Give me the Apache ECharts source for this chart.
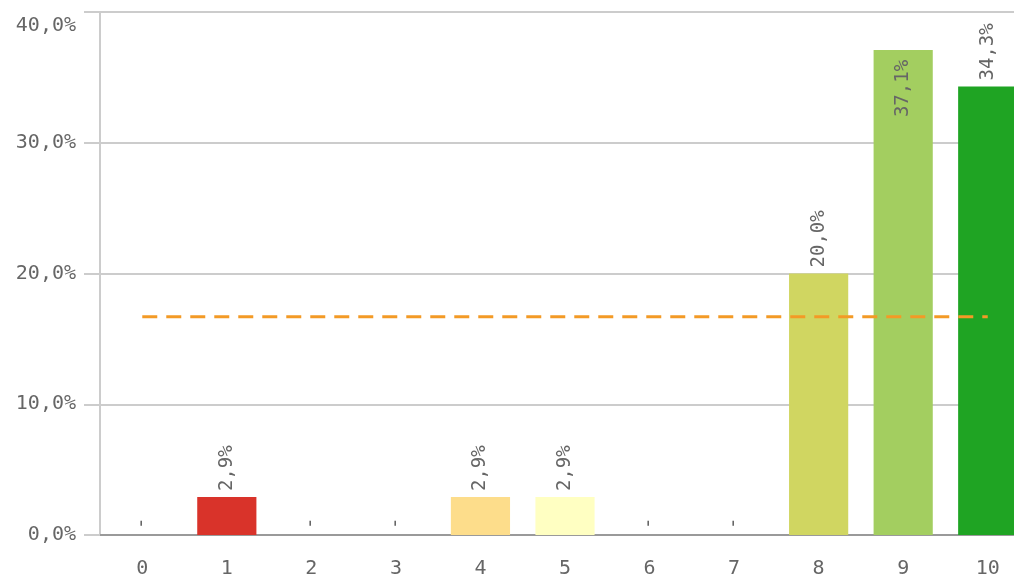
<!DOCTYPE html>
<html><head><meta charset="utf-8">
<script src="https://cdn.jsdelivr.net/npm/echarts@6/dist/echarts.min.js"></script>
<style>html,body{margin:0;padding:0;background:#fff}#c{width:1014px;height:578px}</style>
</head><body><div id="c"></div>
<script>
const categories = ['0','1','2','3','4','5','6','7','8','9','10'];
const values = [0, 2.9, 0, 0, 2.9, 2.9, 0, 0, 20.0, 37.1, 34.3];
const barColors = ['#cccccc','#d9332a','#cccccc','#cccccc','#fddd8b','#ffffc2','#cccccc','#cccccc','#d0d661','#a3ce60','#1fa423'];
const averageValue = 16.7;
const yTicks = [0, 10, 20, 30, 40];

const FONT = 'DejaVu Sans Mono';
const fmt = v => v.toFixed(1).replace('.', ',') + '%';

const barData = values.map((v, i) => {
  const d = { value: v, itemStyle: { color: barColors[i] } };
  if (v > 35) {
    d.label = { position: 'insideTop', align: 'right', distance: 10 };
  }
  return d;
});

const chart = echarts.init(document.getElementById('c'));
chart.setOption({
  animation: false,
  grid: { left: 100, right: -16, top: 12, bottom: 43, containLabel: false, outerBoundsMode: 'none' },
  xAxis: {
    type: 'category',
    data: categories,
    axisLine: { lineStyle: { color: '#9a9a9a', width: 2 } },
    axisTick: { show: false },
    axisLabel: { color: '#666', fontFamily: FONT, fontSize: 20, margin: 24 }
  },
  yAxis: {
    type: 'value',
    min: yTicks[0], max: yTicks[yTicks.length - 1], interval: 10,
    axisLine: { show: true, lineStyle: { color: '#cccccc', width: 2 } },
    axisTick: { show: true, length: 16, lineStyle: { color: '#cccccc', width: 2 } },
    splitLine: { lineStyle: { color: '#cccccc', width: 2 } },
    axisLabel: {
      color: '#666', fontFamily: FONT, fontSize: 20, margin: 24,
      formatter: v => v === yTicks[yTicks.length - 1] ? '{top|' + fmt(v) + '}' : fmt(v),
      rich: { top: { fontFamily: FONT, fontSize: 20, color: '#666', padding: [28, 0, 0, 0] } }
    }
  },
  series: [
    {
      type: 'bar',
      data: barData,
      barCategoryGap: '30%',
      label: {
        show: true,
        position: 'top',
        rotate: 90,
        align: 'left',
        verticalAlign: 'middle',
        distance: 6,
        color: '#666',
        fontFamily: FONT,
        fontSize: 19,
        formatter: p => p.value === 0 ? '-' : fmt(p.value)
      }
    },
    {
      type: 'line',
      data: categories.map(() => averageValue),
      symbol: 'none',
      z: 5,
      lineStyle: { color: '#f39a26', width: 3, type: [15, 9] }
    }
  ]
});
</script></body></html>
